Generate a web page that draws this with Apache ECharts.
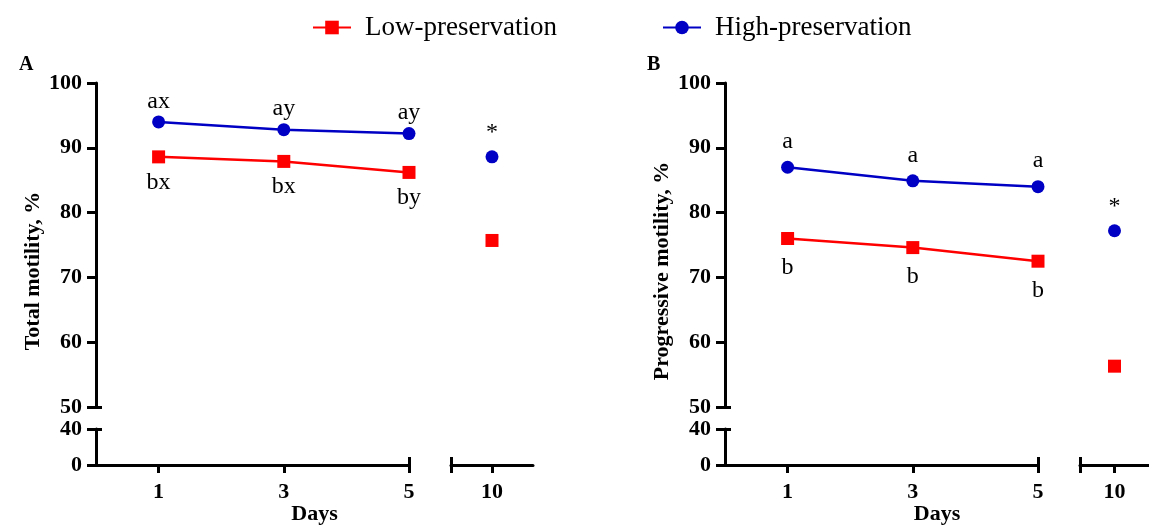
<!DOCTYPE html>
<html>
<head>
<meta charset="utf-8">
<script src="https://cdn.jsdelivr.net/npm/echarts@6/dist/echarts.min.js"></script>
<style>
  html, body { margin: 0; padding: 0; background: #fff; }
  #chart { width: 1149px; height: 530px; }
</style>
</head>
<body>
<div id="chart"></div>
<script>
// x positions: days 1,3,5 on the first segment, day 10 on its own segment
const days = [1, 3, 5];
const lateDay = 10;

// A - total motility, %
const totalLow = [88.6, 87.9, 86.2];
const totalHigh = [94.0, 92.8, 92.2];
const totalLowDay10 = 75.7;
const totalHighDay10 = 88.6;
const totalLowMarks = ['bx', 'bx', 'by'];
const totalHighMarks = ['ax', 'ay', 'ay'];

// B - progressive motility, %
const progLow = [76.0, 74.6, 72.5];
const progHigh = [87.0, 84.9, 84.0];
const progLowDay10 = 56.3;
const progHighDay10 = 77.2;
const progLowMarks = ['b', 'b', 'b'];
const progHighMarks = ['a', 'a', 'a'];

const day10Mark = '*';
const seriesNames = ['Low-preservation', 'High-preservation'];

const FONT = 'Liberation Serif';
const RED = '#ff0000';
const BLUE = '#0000c4';
const BLACK = '#000';

const grids = [];
const xAxes = [];
const yAxes = [];
const series = [];

const axisLine = { show: true, onZero: false, lineStyle: { color: BLACK, width: 3 } };
const tickLine = { color: BLACK, width: 3 };
const tickFont = { fontFamily: FONT, fontWeight: 'bold', fontSize: 22, color: BLACK };

function addX(opt) { xAxes.push(Object.assign({ type: 'value', splitLine: { show: false } }, opt)); return xAxes.length - 1; }
function addY(opt) { yAxes.push(Object.assign({ type: 'value', splitLine: { show: false } }, opt)); return yAxes.length - 1; }

/**
 * one panel = upper part (50-100), lower part (0-40), split in days 0-5 and day 10
 */
function addPanel(p) {
  const g = grids.length;
  const w1 = p.x5 - p.x0;
  grids.push(
    { left: p.x0, top: 83, width: w1, height: 324 },     // upper, days
    { left: p.x0, top: 429, width: w1, height: 36 },     // lower, days
    { left: p.x10, top: 83, width: 82, height: 324 },    // upper, day 10
    { left: p.x10, top: 429, width: 82, height: 36 },    // lower, day 10
    { left: p.x0, top: 83, width: p.x10 + 82 - p.x0, height: 382 } // only for axis names
  );

  // upper, days
  const ux = addX({ gridIndex: g, min: 0, max: 5, show: false });
  const uy = addY({
    gridIndex: g, min: 50, max: 100, interval: 10, position: 'left',
    axisLine, axisTick: { show: true, length: 9, lineStyle: tickLine },
    axisLabel: Object.assign({ margin: 14 }, tickFont),
  });
  addY({
    gridIndex: g, min: 50, max: 100, position: 'left',
    axisLine: { show: false }, axisLabel: { show: false },
    axisTick: { show: true, inside: true, length: 6, customValues: [50], lineStyle: tickLine },
  });

  // lower, days
  addX({
    gridIndex: g + 1, min: 0, max: 5, position: 'bottom',
    axisLine, axisTick: { show: true, length: 8, customValues: days, lineStyle: tickLine },
    axisLabel: Object.assign({ margin: 16, customValues: days }, tickFont),
  });
  addX({
    gridIndex: g + 1, min: 0, max: 5, position: 'bottom',
    axisLine: { show: false }, axisLabel: { show: false },
    axisTick: { show: true, inside: true, length: 8, customValues: [5], lineStyle: tickLine },
  });
  addY({
    gridIndex: g + 1, min: 0, max: 40, interval: 40, position: 'left',
    axisLine, axisTick: { show: true, length: 9, lineStyle: tickLine },
    axisLabel: Object.assign({ margin: 14 }, tickFont),
  });
  addY({
    gridIndex: g + 1, min: 0, max: 40, position: 'left',
    axisLine: { show: false }, axisLabel: { show: false },
    axisTick: { show: true, inside: true, length: 6, customValues: [40], lineStyle: tickLine },
  });

  // upper, day 10
  const rx = addX({ gridIndex: g + 2, min: 9, max: 11, show: false });
  const ry = addY({ gridIndex: g + 2, min: 50, max: 100, show: false });

  // lower, day 10
  addX({
    gridIndex: g + 3, min: 9, max: 11, position: 'bottom',
    axisLine, axisTick: { show: true, length: 8, customValues: [9, lateDay], lineStyle: tickLine },
    axisLabel: Object.assign({ margin: 16, customValues: [lateDay] }, tickFont),
  });
  addX({
    gridIndex: g + 3, min: 9, max: 11, position: 'bottom',
    axisLine: { show: false }, axisLabel: { show: false },
    axisTick: { show: true, inside: true, length: 8, customValues: [9], lineStyle: tickLine },
  });
  addY({ gridIndex: g + 3, min: 0, max: 40, show: false });

  // axis names
  addX({
    gridIndex: g + 4, min: 0, max: 1, position: 'bottom',
    axisLine: { show: false }, axisTick: { show: false }, axisLabel: { show: false },
    name: 'Days', nameLocation: 'middle', nameGap: 44,
    nameTextStyle: { fontFamily: FONT, fontWeight: 'bold', fontSize: 22, color: BLACK },
  });
  addY({
    gridIndex: g + 4, min: 0, max: 1, position: 'left',
    axisLine: { show: false }, axisTick: { show: false }, axisLabel: { show: false },
    name: p.name, nameLocation: 'middle', nameGap: 52,
    nameTextStyle: { fontFamily: FONT, fontWeight: 'bold', fontSize: 22, color: BLACK },
  });

  const markLabel = (marks, position, distance) => ({
    show: true, position, distance,
    fontFamily: FONT, fontSize: 24, color: BLACK,
    formatter: (d) => marks[d.dataIndex],
  });

  series.push(
    {
      name: seriesNames[0], type: 'line', xAxisIndex: ux, yAxisIndex: uy,
      data: days.map((d, i) => [d, p.low[i]]),
      symbol: 'rect', symbolSize: 13, color: RED, lineStyle: { width: 2.5, color: RED },
      label: markLabel(p.lowMarks, 'bottom', p.lowGap),
    },
    {
      name: seriesNames[1], type: 'line', xAxisIndex: ux, yAxisIndex: uy,
      data: days.map((d, i) => [d, p.high[i]]),
      symbol: 'circle', symbolSize: 13, color: BLUE, lineStyle: { width: 2.5, color: BLUE },
      label: markLabel(p.highMarks, 'top', p.highGap),
    },
    {
      name: seriesNames[0], type: 'line', xAxisIndex: rx, yAxisIndex: ry,
      data: [[lateDay, p.lowDay10]],
      symbol: 'rect', symbolSize: 13, color: RED, lineStyle: { width: 2.5, color: RED },
    },
    {
      name: seriesNames[1], type: 'line', xAxisIndex: rx, yAxisIndex: ry,
      data: [[lateDay, p.highDay10]],
      symbol: 'circle', symbolSize: 13, color: BLUE, lineStyle: { width: 2.5, color: BLUE },
      label: { show: true, position: 'top', distance: 6, fontFamily: FONT, fontSize: 24, color: BLACK, formatter: day10Mark },
    }
  );
}

addPanel({
  x0: 96, x5: 409, x10: 451, name: 'Total motility, %',
  low: totalLow, high: totalHigh, lowDay10: totalLowDay10, highDay10: totalHighDay10,
  lowMarks: totalLowMarks, highMarks: totalHighMarks, lowGap: 7, highGap: 2,
});
addPanel({
  x0: 725, x5: 1038, x10: 1080, name: 'Progressive motility, %',
  low: progLow, high: progHigh, lowDay10: progLowDay10, highDay10: progHighDay10,
  lowMarks: progLowMarks, highMarks: progHighMarks, lowGap: 11, highGap: 7,
});

const legendBase = {
  top: 9, itemWidth: 38, itemHeight: 17, selectedMode: false,
  textStyle: { fontFamily: FONT, fontSize: 27, color: BLACK, padding: [0, 0, 0, 9] },
};

const chart = echarts.init(document.getElementById('chart'));
chart.setOption({
  backgroundColor: '#fff',
  animation: false,
  title: [
    { text: 'A', left: 14, top: 50, textStyle: { fontFamily: FONT, fontWeight: 'bold', fontSize: 20, color: BLACK } },
    { text: 'B', left: 642, top: 50, textStyle: { fontFamily: FONT, fontWeight: 'bold', fontSize: 20, color: BLACK } },
  ],
  legend: [
    Object.assign({ left: 307, data: [seriesNames[0]] }, legendBase),
    Object.assign({ left: 657, data: [seriesNames[1]] }, legendBase),
  ],
  grid: grids,
  xAxis: xAxes,
  yAxis: yAxes,
  series,
});
</script>
</body>
</html>
